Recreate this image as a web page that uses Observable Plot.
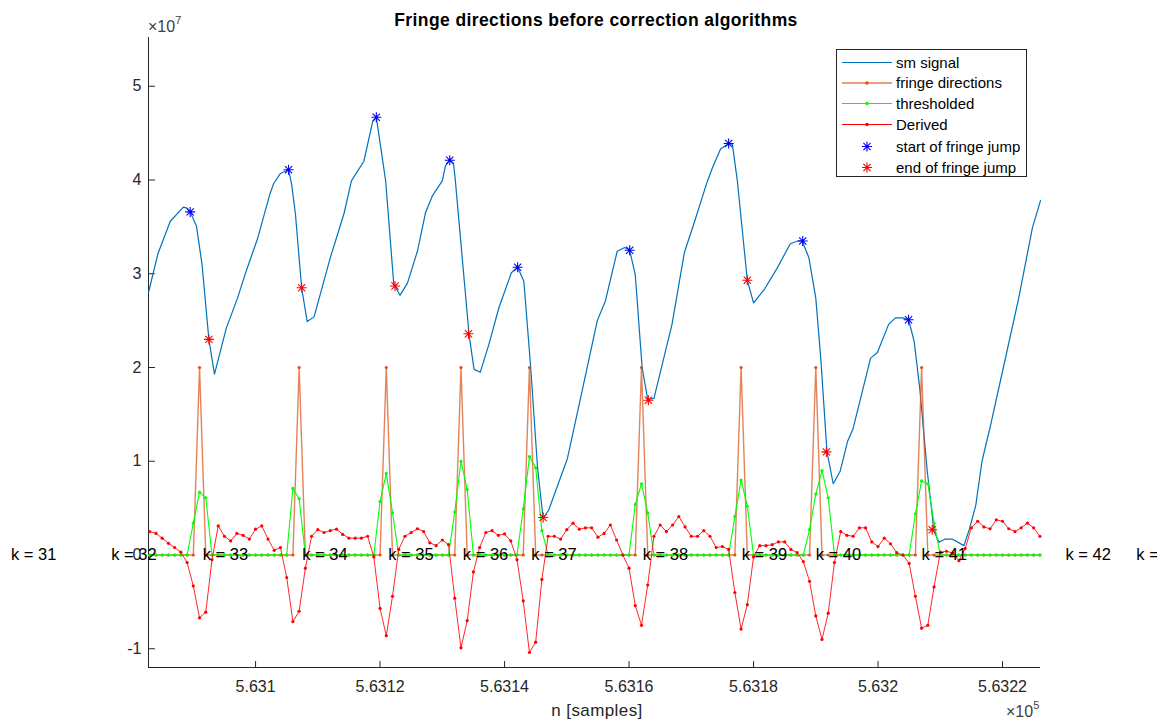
<!DOCTYPE html>
<html>
<head>
<meta charset="utf-8">
<script src="https://cdn.jsdelivr.net/npm/d3@7"></script>
<script src="https://cdn.jsdelivr.net/npm/@observablehq/plot@0.6"></script>
<style>
html, body { margin: 0; padding: 0; background: #fff; }
#wrap { position: relative; width: 1157px; height: 721px; overflow: hidden; font-family: "Liberation Sans", Arial, Helvetica, sans-serif; }
#wrap svg.overlay { position: absolute; left: 0; top: 0; pointer-events: none; }
#chart { position: absolute; left: 0; top: 0; }
</style>
</head>
<body>
<div id="wrap"><div id="chart"></div></div>
<script>
// ---------- data ----------
const n0 = 563083;                       // first sample index shown
const xDomain = [563082.8, 563226.1];
const yDomain = [-1.2, 5.52];            // units of 1e7
const xTicks = [563100, 563120, 563140, 563160, 563180, 563200, 563220];
const xTickLabels = ["5.631", "5.6312", "5.6314", "5.6316", "5.6318", "5.632", "5.6322"];
const yTicks = [-1, 0, 1, 2, 3, 4, 5];
const yTickLabels = ["-1", "0", "1", "2", "3", "4", "5"];

// sm signal (offset from n0, value x1e7)
const sigOffset = [-0.2, 1.3, 3.3, 5.4, 6.0, 6.5, 7.5, 8.4, 9.5, 10.4, 12.3, 14.1, 15.5, 17.3, 19.3, 19.9, 21.0, 22.3, 22.8, 23.4,
  24.4, 25.3, 26.4, 29.0, 31.2, 32.4, 34.4, 35.8, 36.4, 37.9, 39.2, 40.2, 41.4, 43.0, 44.3, 45.4, 47.0, 47.5, 48.2, 48.8,
  49.1, 51.3, 52.1, 53.1, 54.5, 56.1, 58.1, 59.1, 60.1, 61.2, 62.3, 63.2, 64.1, 67.1, 69.2, 71.9, 73.2, 75.1, 76.3, 77.1,
  78.0, 79.1, 80.0, 81.0, 83.9, 85.9, 87.4, 89.6, 90.4, 91.7, 93.0, 93.6, 94.4, 96.0, 97.0, 98.7, 100.8, 102.9, 104.1, 104.8,
  105.9, 107.0, 107.8, 108.8, 109.8, 110.9, 112.1, 113.0, 114.2, 115.8, 116.9, 118.7, 119.8, 120.9, 121.9, 122.8, 123.7, 124.9, 126.0, 126.8,
  127.8, 128.9, 130.8, 131.7, 132.7, 133.7, 135.1, 137.0, 139.6, 141.8, 143.1];
const sigValue = [2.80, 3.21, 3.56, 3.71, 3.70, 3.66, 3.51, 3.10, 2.30, 1.93, 2.42, 2.74, 3.03, 3.37, 3.85, 3.96, 4.07, 4.11, 3.95, 3.64,
  2.85, 2.49, 2.54, 3.17, 3.64, 3.99, 4.20, 4.62, 4.67, 3.99, 2.89, 2.77, 2.90, 3.24, 3.65, 3.83, 3.99, 4.15, 4.21, 4.18,
  3.99, 2.35, 1.98, 1.95, 2.25, 2.64, 3.01, 3.07, 2.92, 2.00, 0.93, 0.39, 0.48, 1.03, 1.67, 2.50, 2.71, 3.24, 3.28, 3.25,
  2.99, 2.00, 1.66, 1.67, 2.46, 3.23, 3.53, 3.99, 4.13, 4.33, 4.39, 4.38, 3.99, 2.93, 2.69, 2.83, 3.06, 3.32, 3.35, 3.35,
  3.17, 2.74, 2.10, 1.10, 0.76, 0.89, 1.21, 1.35, 1.67, 2.10, 2.16, 2.46, 2.53, 2.53, 2.51, 2.28, 1.78, 0.90, 0.25, 0.135,
  0.17, 0.17, 0.10, 0.28, 0.53, 1.00, 1.39, 1.96, 2.74, 3.49, 3.78];

// per-sample series, sample n0 + index
const fringeDir = [
  0,0,0,0,0,0,0,0,2,0,0,0,
  0,0,0,0,0,0,0,0,0,0,0,0,
  2,0,0,0,0,0,0,0,0,0,0,0,
  0,0,2,0,0,0,0,0,0,0,0,0,
  0,0,2,0,0,0,0,0,0,0,0,0,
  0,2,0,0,0,0,0,0,0,0,0,0,
  0,0,0,0,0,0,0,2,0,0,0,0,
  0,0,0,0,0,0,0,0,0,0,0,2,
  0,0,0,0,0,0,0,0,0,0,0,2,
  0,0,0,0,0,0,0,0,0,0,0,0,
  0,0,0,0,2,0,0,0,0,0,0,0,
  0,0,0,0,0,0,0,0,0,0,0,0];
const thresholded = [
  0,0,0,0,0,0,0,0.34,0.67,0.61,0,0,
  0,0,0,0,0,0,0,0,0,0,0,0.71,
  0.60,0,0,0,0,0,0,0,0,0,0,0,
  0,0.57,0.87,0.45,0,0,0,0,0,0,0,0,
  0,0.46,1.00,0.70,0,0,0,0,0,0,0,0,
  0.49,1.05,0.93,0.26,0,0,0,0,0,0,0,0,
  0,0,0,0,0,0,0.54,0.76,0.45,0,0,0,
  0,0,0,0,0,0,0,0,0,0,0.41,0.80,
  0.52,0,0,0,0,0,0,0,0,0,0.27,0.65,
  0.90,0.61,0,0,0,0,0,0,0,0,0,0,
  0,0,0,0.44,0.79,0.76,0.34,0,0,0,0,0,
  0,0,0,0,0,0,0,0,0,0,0,0];
const derived = [
  0.25,0.23,0.18,0.125,0.08,0.03,-0.08,-0.33,-0.67,-0.61,-0.05,0.31,
  0.20,0.15,0.23,0.21,0.17,0.275,0.31,0.17,0.05,0.08,-0.24,-0.71,
  -0.60,-0.14,0.20,0.27,0.24,0.26,0.275,0.22,0.18,0.18,0.18,0.20,
  -0.02,-0.57,-0.86,-0.44,0.06,0.20,0.24,0.28,0.25,0.13,0.10,0.16,
  0.11,-0.46,-0.99,-0.70,-0.18,0.08,0.24,0.26,0.21,0.225,0.15,-0.05,
  -0.49,-1.04,-0.93,-0.26,0.20,0.20,0.17,0.27,0.34,0.275,0.29,0.29,
  0.19,0.23,0.32,0.16,0.00,-0.14,-0.54,-0.75,-0.32,0.20,0.32,0.25,
  0.32,0.41,0.30,0.20,0.20,0.26,0.20,0.08,0.09,0.06,-0.40,-0.79,
  -0.53,-0.02,0.10,0.10,0.11,0.14,0.14,0.06,0.025,-0.07,-0.28,-0.65,
  -0.90,-0.62,-0.08,0.25,0.21,0.20,0.29,0.29,0.14,0.09,0.18,0.12,
  0.025,0.00,-0.09,-0.44,-0.78,-0.75,-0.34,0.03,0.04,0.02,-0.06,0.07,
  0.29,0.36,0.30,0.28,0.375,0.36,0.28,0.25,0.29,0.34,0.29,0.20];

const startOffset = [6.5, 22.3, 36.4, 48.2, 59.1, 77.1, 93.0, 104.9, 121.9];
const startValue = [3.66, 4.11, 4.67, 4.21, 3.07, 3.25, 4.39, 3.35, 2.51];
const endOffset = [9.5, 24.4, 39.4, 51.2, 63.2, 80.1, 96.0, 108.7, 125.7];
const endValue = [2.30, 2.85, 2.87, 2.36, 0.40, 1.65, 2.93, 1.10, 0.27];

const kLabels = ["k = 31", "k = 32", "k = 33", "k = 34", "k = 35", "k = 36", "k = 37", "k = 38", "k = 39", "k = 40", "k = 41", "k = 42", "k = 43"];
const kOffset = [-22.3, -6.2, 8.5, 24.5, 38.3, 50.3, 61.3, 79.2, 95.1, 107.0, 124.0, 147.1, 158.5];

const legendLabels = ["sm signal", "fringe directions", "thresholded", "Derived", "start of fringe jump", "end of fringe jump"];

// ---------- tables ----------
const signal = sigOffset.map((o, i) => ({x: n0 + o, y: sigValue[i]}));
const samples = derived.map((d, i) => ({x: n0 + i, fringe: fringeDir[i], thr: thresholded[i], der: d}));
const starts = startOffset.map((o, i) => ({x: n0 + o, y: startValue[i]}));
const ends = endOffset.map((o, i) => ({x: n0 + o, y: endValue[i]}));
const kTable = kOffset.map((o, i) => ({x: n0 + o, label: kLabels[i]}));

// ---------- styles ----------
const C = {
  axis: "#262626",
  signal: "#0072BD",
  fringe: "#D95319",
  thr: "#00FF00",
  der: "#FF0000",
  start: "#0000FF",
  end: "#FF0000"
};
const FONT = '"Liberation Sans", Arial, Helvetica, sans-serif';
const asterisk = {
  draw(ctx, size) {
    const r = Math.sqrt(size / Math.PI), d = r * 0.72;
    ctx.moveTo(-r, 0); ctx.lineTo(r, 0);
    ctx.moveTo(0, -r); ctx.lineTo(0, r);
    ctx.moveTo(-d, -d); ctx.lineTo(d, d);
    ctx.moveTo(-d, d); ctx.lineTo(d, -d);
  }
};
const tickShape = { draw(ctx, l) { ctx.moveTo(0, 0); ctx.lineTo(0, -l); } };

const chart = Plot.plot({
  width: 1157,
  height: 721,
  marginTop: 37,
  marginRight: 117,
  marginBottom: 54,
  marginLeft: 148,
  style: {fontFamily: FONT, fontSize: "16px", color: C.axis, background: "transparent", overflow: "visible"},
  x: {domain: xDomain},
  y: {domain: yDomain},
  marks: [
    Plot.ruleX([xDomain[0]], {stroke: C.axis, strokeWidth: 1}),
    Plot.ruleY([yDomain[0]], {stroke: C.axis, strokeWidth: 1}),
    Plot.vector(yTicks, {x: () => xDomain[0], y: d => d, rotate: 90, length: 6, anchor: "start", shape: tickShape, stroke: C.axis, strokeWidth: 1}),
    Plot.vector(xTicks, {x: d => d, y: () => yDomain[0], rotate: 0, length: 6, anchor: "start", shape: tickShape, stroke: C.axis, strokeWidth: 1}),
    Plot.axisY({ticks: yTicks, tickFormat: d => yTickLabels[yTicks.indexOf(d)], tickSize: 0, tickPadding: 7, label: null, fontSize: 16, letterSpacing: 0.4}),
    Plot.axisX({ticks: xTicks, tickFormat: d => xTickLabels[xTicks.indexOf(d)], tickSize: 0, tickPadding: 13, label: null, fontSize: 16, letterSpacing: 0.5}),
    Plot.line(signal, {x: "x", y: "y", stroke: C.signal, strokeWidth: 1.2}),
    Plot.line(samples, {x: "x", y: "fringe", stroke: C.fringe, strokeWidth: 1.4, strokeOpacity: 0.72}),
    Plot.dot(samples, {x: "x", y: "fringe", r: 1.6, fill: C.fringe}),
    Plot.line(samples, {x: "x", y: "thr", stroke: C.thr, strokeWidth: 1.1}),
    Plot.dot(samples, {x: "x", y: "thr", r: 1.6, fill: C.thr}),
    Plot.line(samples, {x: "x", y: "der", stroke: C.der, strokeWidth: 1, strokeOpacity: 0.85}),
    Plot.dot(samples, {x: "x", y: "der", r: 1.6, fill: C.der}),
    Plot.dot(starts, {x: "x", y: "y", symbol: asterisk, r: 5, stroke: C.start, fill: "none", strokeWidth: 1.1}),
    Plot.dot(ends, {x: "x", y: "y", symbol: asterisk, r: 5, stroke: C.end, fill: "none", strokeWidth: 1.1}),
    Plot.text(kTable, {x: "x", y: () => 0, text: "label", textAnchor: "start", fill: "#000", fontSize: 16.5, letterSpacing: 0.3})
  ]
});
document.getElementById("chart").appendChild(chart);

// ---------- overlay: title, labels, exponents, legend ----------
const ov = d3.select("#wrap").append("svg").attr("class", "overlay").attr("width", 1157).attr("height", 721)
  .attr("font-family", FONT);

ov.append("text").attr("x", 596).attr("y", 26).attr("text-anchor", "middle")
  .attr("font-weight", "bold").attr("font-size", 17.5).attr("letter-spacing", 0.4).attr("fill", "#000")
  .text("Fringe directions before correction algorithms");

ov.append("text").attr("x", 597).attr("y", 716).attr("text-anchor", "middle")
  .attr("font-size", 17).attr("letter-spacing", 0.4).attr("fill", C.axis).text("n [samples]");

const e7 = ov.append("text").attr("x", 148).attr("y", 32).attr("font-size", 16).attr("fill", "#404040");
e7.append("tspan").text("\u00d710");
e7.append("tspan").attr("font-size", 11).attr("dy", -8).text("7");

const e5 = ov.append("text").attr("x", 1006).attr("y", 717).attr("font-size", 16).attr("fill", "#404040");
e5.append("tspan").text("\u00d710");
e5.append("tspan").attr("font-size", 11).attr("dy", -8).text("5");

// legend
const lg = ov.append("g").attr("transform", "translate(836,49)");
lg.append("rect").attr("x", 0.5).attr("y", 0.5).attr("width", 190).attr("height", 127)
  .attr("fill", "#fff").attr("stroke", C.axis).attr("stroke-width", 1);
const rowY = [13.5, 34, 54.5, 75.5, 97.5, 118.5];
const lineColors = [C.signal, C.fringe, C.thr, C.der];
lineColors.forEach((c, i) => {
  lg.append("line").attr("x1", 6).attr("x2", 56).attr("y1", rowY[i]).attr("y2", rowY[i])
    .attr("stroke", c).attr("stroke-width", i === 1 ? 1.6 : 1.2).attr("stroke-opacity", i === 1 ? 0.75 : 1);
  if (i > 0) lg.append("circle").attr("cx", 31).attr("cy", rowY[i]).attr("r", 1.8).attr("fill", c);
});
[C.start, C.end].forEach((c, j) => {
  const p = d3.path();
  asterisk.draw(p, 25 * Math.PI);
  lg.append("path").attr("d", p.toString()).attr("transform", `translate(31,${rowY[4 + j]})`)
    .attr("stroke", c).attr("stroke-width", 1.1).attr("fill", "none");
});
legendLabels.forEach((t, i) => {
  lg.append("text").attr("x", 60).attr("y", rowY[i]).attr("dy", "0.36em")
    .attr("font-size", 15).attr("fill", "#000").text(t);
});
</script>
</body>
</html>
